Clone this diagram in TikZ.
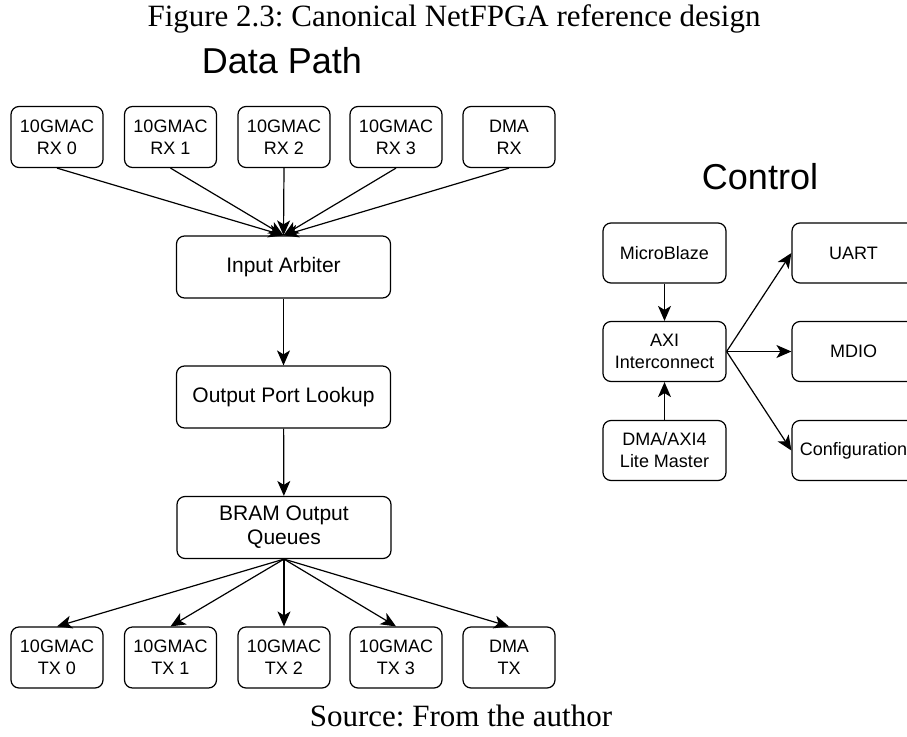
\documentclass[tikz,border=0pt]{standalone}
\usepackage{fontspec}
\setmainfont{Liberation Serif}
\setsansfont{Liberation Sans}
\usetikzlibrary{arrows.meta}
\frenchspacing
\begin{document}
\begin{tikzpicture}[x=1pt,y=-1pt,
  blk/.style={draw, line width=1.2pt, rounded corners=8pt, align=center, inner sep=0pt,
    font=\sffamily\fontsize{18}{22}\selectfont},
  small/.style={blk, minimum width=92pt, minimum height=61pt},
  wide/.style={blk, minimum width=214pt, minimum height=62pt, font=\sffamily\fontsize{21}{24}\selectfont},
  ctl/.style={blk, minimum width=123pt, minimum height=60pt},
  conn/.style={line width=1.2pt, -{Stealth[length=15pt,width=13pt,inset=4pt]}},
  heading/.style={font=\sffamily\fontsize{36}{42}\selectfont, inner sep=0pt, anchor=base},
  caption/.style={font=\rmfamily\fontsize{31}{36}\selectfont, inner sep=0pt, anchor=base}]
\useasboundingbox (0,0) rectangle (907,736);

\node[caption] (title) at (454,27) {Figure 2.3: Canonical NetFPGA reference design};
\node[caption] (source) at (461,726) {Source: From the author};
\node[heading] (dp) at (282,73) {Data Path};
\node[heading] (ct) at (760,189) {Control};

% Data path
\node[small] (rx0) at (57,137) {10GMAC\\RX 0};
\node[small] (rx1) at (170.5,137) {10GMAC\\RX 1};
\node[small] (rx2) at (284,137) {10GMAC\\RX 2};
\node[small] (rx3) at (396,137) {10GMAC\\RX 3};
\node[small] (rxd) at (509,137) {DMA\\RX};

\node[wide] (arb) at (283.5,267) {Input Arbiter};
\node[wide] (opl) at (283.5,397) {Output Port Lookup};
\node[wide] (bram) at (284,527.5) {BRAM Output\\Queues};

\node[small] (tx0) at (57,657.5) {10GMAC\\TX 0};
\node[small] (tx1) at (170.5,657.5) {10GMAC\\TX 1};
\node[small] (tx2) at (284,657.5) {10GMAC\\TX 2};
\node[small] (tx3) at (396,657.5) {10GMAC\\TX 3};
\node[small] (txd) at (509,657.5) {DMA\\TX};

\foreach \n in {rx0,rx1,rx2,rx3,rxd} \draw[conn] (\n.south) -- (arb.north);
\draw[conn] (arb) -- (opl);
\draw[conn] (opl) -- (bram);
\foreach \n in {tx0,tx1,tx2,tx3,txd} \draw[conn] (bram.south) -- (\n.north);

% Control
\node[ctl] (mb) at (664.5,253) {MicroBlaze};
\node[ctl] (axi) at (664.5,351.5) {AXI\\Interconnect};
\node[ctl] (dma) at (664.5,450.5) {DMA/AXI4\\Lite Master};
\node[ctl] (uart) at (853.5,253) {UART};
\node[ctl] (mdio) at (853.5,351.5) {MDIO};
\node[ctl] (cfg) at (853.5,450.5) {Configuration};

\draw[conn] (mb) -- (axi);
\draw[conn] (dma) -- (axi);
\draw[conn] (axi.east) -- (uart.west);
\draw[conn] (axi.east) -- (mdio.west);
\draw[conn] (axi.east) -- (cfg.west);
\end{tikzpicture}
\end{document}
